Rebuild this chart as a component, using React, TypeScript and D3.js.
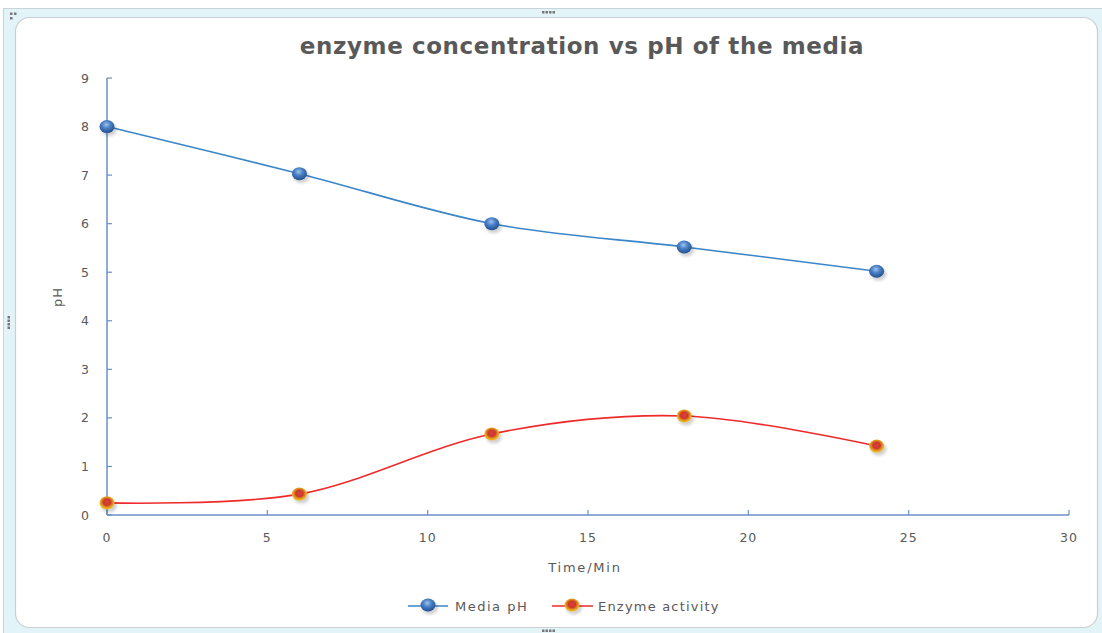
import React from "react";
import * as d3 from "d3";

const timeMin = [0, 6, 12, 18, 24];
const mediaPH = [8, 7.03, 6, 5.52, 5.02];
const enzymeActivity = [0.25, 0.43, 1.67, 2.04, 1.42];
const xTicks = [0, 5, 10, 15, 20, 25, 30];
const yTicks = [0, 1, 2, 3, 4, 5, 6, 7, 8, 9];
const seriesNames = ["Media pH", "Enzyme activity"];
const titleText = "enzyme concentration vs pH of the media";

const W = 1102;
const H = 633;

export default function App() {
  const x = d3.scaleLinear().domain([0, 30]).range([107, 1069]);
  const y = d3.scaleLinear().domain([0, 9]).range([515, 78]);
  const line = d3
    .line<number>()
    .x((_, i) => x(timeMin[i]))
    .y((d) => y(d))
    .curve(d3.curveCardinal.tension(0));

  const axisColor = "#6b8fc9";
  const textColor = "#595959";
  const font = "DejaVu Sans, Verdana, sans-serif";

  const dots = (cx: number, cy: number, vertical: boolean) =>
    [0, 1, 2, 3].map((k) => (
      <rect
        key={k}
        x={vertical ? cx - 1.5 : cx - 6 + k * 3.5}
        y={vertical ? cy - 6 + k * 3.5 : cy - 1.5}
        width={2.5}
        height={2.5}
        fill="#777"
      />
    ));

  const marker = (cx: number, cy: number, grad: string, key: string) => (
    <g key={key}>
      <ellipse cx={cx + 2} cy={cy + 3} rx={8} ry={6.5} fill="#000" opacity={0.18} filter="url(#blur)" />
      <ellipse cx={cx} cy={cy} rx={7.5} ry={6.5} fill={`url(#${grad})`} />
    </g>
  );

  return (
    <svg
      width={W}
      height={H}
      style={{ position: "absolute", left: 0, top: 0, background: "#fff" }}
      fontFamily={font}
    >
      <defs>
        <radialGradient id="gBlue" cx="45%" cy="35%" r="65%">
          <stop offset="0%" stopColor="#9cc3f0" />
          <stop offset="45%" stopColor="#4a7fc4" />
          <stop offset="100%" stopColor="#1f4f8f" />
        </radialGradient>
        <radialGradient id="gRed" cx="50%" cy="45%" r="60%">
          <stop offset="0%" stopColor="#e0403a" />
          <stop offset="40%" stopColor="#c93a2c" />
          <stop offset="70%" stopColor="#e8a020" />
          <stop offset="100%" stopColor="#f7cf1a" />
        </radialGradient>
        <filter id="blur" x="-50%" y="-50%" width="200%" height="200%">
          <feGaussianBlur stdDeviation="1.5" />
        </filter>
      </defs>

      {/* outer frame */}
      <rect x={3.5} y={8.5} width={1110} height={640} fill="#e3f4f8" stroke="#c8d4d8" />
      <rect x={15.5} y={17.5} width={1082} height={610} rx={14} fill="#fff" stroke="#c9cfd2" strokeWidth={1.2} />
      {dots(548, 12.5, false)}
      {dots(548, 631, false)}
      {dots(9, 322, true)}
      <rect x={10} y={12.5} width={2.5} height={2.5} fill="#777" />
      <rect x={14} y={12.5} width={2.5} height={2.5} fill="#777" />
      <rect x={10} y={17} width={2.5} height={2.5} fill="#777" />

      {/* title */}
      <text
        x={582}
        y={54}
        textAnchor="middle"
        fontSize={23}
        fontWeight="bold"
        letterSpacing={0.6}
        fill={textColor}
      >
        {titleText}
      </text>

      {/* axes */}
      <line x1={x(0)} x2={x(0)} y1={y(9)} y2={y(0)} stroke={axisColor} strokeWidth={1.5} />
      <line x1={x(0)} x2={x(30)} y1={y(0)} y2={y(0)} stroke={axisColor} strokeWidth={1.5} />
      {yTicks.map((t) => (
        <g key={"y" + t}>
          <line x1={x(0)} x2={x(0) + 5} y1={y(t)} y2={y(t)} stroke={axisColor} strokeWidth={1.2} />
          <text x={89} y={y(t) + 4.5} textAnchor="end" fontSize={12.5} fill={textColor}>
            {t}
          </text>
        </g>
      ))}
      {xTicks.map((t) => (
        <g key={"x" + t}>
          <line x1={x(t)} x2={x(t)} y1={y(0)} y2={y(0) - 5} stroke={axisColor} strokeWidth={1.2} />
          <text x={x(t)} y={542} textAnchor="middle" fontSize={12.5} letterSpacing={1} fill={textColor}>
            {t}
          </text>
        </g>
      ))}

      <text x={585} y={572} textAnchor="middle" fontSize={13} letterSpacing={1.8} fill={textColor}>
        Time/Min
      </text>
      <text
        transform={`translate(62,297) rotate(-90)`}
        textAnchor="middle"
        fontSize={13}
        letterSpacing={1}
        fill={textColor}
      >
        pH
      </text>

      {/* series */}
      <path d={line(mediaPH) || ""} fill="none" stroke="#3b86c8" strokeWidth={1.6} />
      <path d={line(enzymeActivity) || ""} fill="none" stroke="#ee2a2a" strokeWidth={1.6} />
      {mediaPH.map((v, i) => marker(x(timeMin[i]), y(v), "gBlue", "b" + i))}
      {enzymeActivity.map((v, i) => marker(x(timeMin[i]), y(v), "gRed", "r" + i))}

      {/* legend */}
      <line x1={408} x2={448} y1={606} y2={606} stroke="#3b86c8" strokeWidth={1.6} />
      {marker(428, 605, "gBlue", "lb")}
      <text x={455} y={611} fontSize={13} letterSpacing={1.5} fill={textColor}>
        {seriesNames[0]}
      </text>
      <line x1={552} x2={593} y1={606} y2={606} stroke="#ee2a2a" strokeWidth={1.6} />
      {marker(572, 605, "gRed", "lr")}
      <text x={598} y={611} fontSize={13} letterSpacing={1.2} fill={textColor}>
        {seriesNames[1]}
      </text>
    </svg>
  );
}
